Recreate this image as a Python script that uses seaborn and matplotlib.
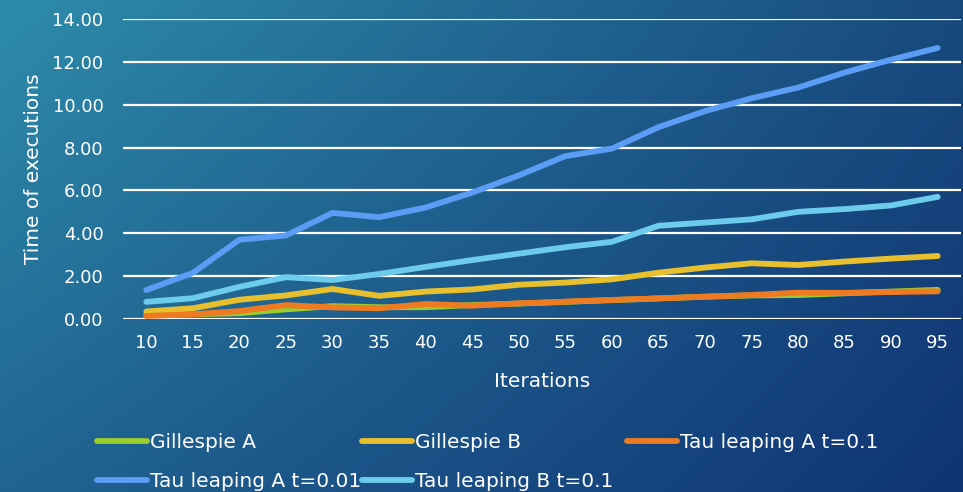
import numpy as np
import pandas as pd
import matplotlib
matplotlib.use("Agg")
import matplotlib.pyplot as plt
import seaborn as sns
from matplotlib.lines import Line2D

iterations = [10, 15, 20, 25, 30, 35, 40, 45, 50, 55, 60, 65, 70, 75, 80, 85, 90, 95]
gillespie_a = [0.20, 0.22, 0.27, 0.45, 0.60, 0.55, 0.55, 0.65, 0.72, 0.80, 0.88, 0.96, 1.04, 1.10, 1.12, 1.20, 1.28, 1.36]
gillespie_b = [0.35, 0.50, 0.90, 1.10, 1.40, 1.08, 1.28, 1.38, 1.60, 1.70, 1.85, 2.16, 2.40, 2.60, 2.52, 2.68, 2.82, 2.94]
tau_a_01 = [0.14, 0.22, 0.37, 0.65, 0.54, 0.50, 0.70, 0.62, 0.73, 0.81, 0.89, 0.96, 1.04, 1.12, 1.23, 1.22, 1.26, 1.29]
tau_a_001 = [1.35, 2.15, 3.70, 3.90, 4.95, 4.75, 5.20, 5.90, 6.70, 7.60, 7.95, 8.95, 9.70, 10.30, 10.80, 11.50, 12.10, 12.65]
tau_b_01 = [0.80, 0.97, 1.50, 1.95, 1.82, 2.10, 2.43, 2.75, 3.05, 3.35, 3.60, 4.35, 4.50, 4.65, 5.00, 5.13, 5.30, 5.70]

series_names = ["Gillespie A", "Gillespie B", "Tau leaping A t=0.1",
                "Tau leaping A t=0.01", "Tau leaping B t=0.1"]
series_values = [gillespie_a, gillespie_b, tau_a_01, tau_a_001, tau_b_01]
colors = ["#9ACD2E", "#E8C02E", "#EE7A22", "#5B9CF4", "#6DCBEB"]
y_ticks = [0, 2, 4, 6, 8, 10, 12, 14]

rows = []
for name, vals in zip(series_names, series_values):
    for x, v in zip(iterations, vals):
        rows.append({"Iterations": x, "Time": v, "Series": name})
df = pd.DataFrame(rows)

sns.set_theme(style="white")
plt.rcParams["font.family"] = ["DejaVu Sans"]

W, H = 963, 492
fig = plt.figure(figsize=(W / 100, H / 100), dpi=100)

# gradient background
bg = fig.add_axes([0, 0, 1, 1], zorder=-10)
tl = np.array([46, 140, 170]) / 255
tr = np.array([24, 74, 126]) / 255
bl = np.array([32, 100, 145]) / 255
br = np.array([16, 52, 116]) / 255
u = np.linspace(0, 1, 200)[None, :, None]
v = np.linspace(0, 1, 120)[:, None, None]
img = (1 - v) * ((1 - u) * tl + u * tr) + v * ((1 - u) * bl + u * br)
bg.imshow(img, aspect="auto", extent=[0, 1, 0, 1], interpolation="bilinear")
bg.axis("off")

ax = fig.add_axes([123 / W, 1 - 319 / H, (961 - 123) / W, (319 - 19) / H])
ax.set_facecolor("none")
for spine in ax.spines.values():
    spine.set_visible(False)

for y in y_ticks:
    ax.axhline(y, color="white", lw=1.6, zorder=1)

sns.lineplot(data=df, x="Iterations", y="Time", hue="Series",
             hue_order=series_names, palette=colors, ax=ax, lw=4.2,
             solid_capstyle="round", legend=False, zorder=3)

ax.set_xlim(7.5, 97.5)
ax.set_ylim(0, 14)
ax.set_xticks(iterations)
ax.set_xticklabels([str(i) for i in iterations])
ax.set_yticks(y_ticks)
ax.set_yticklabels([f"{t:.2f}" for t in y_ticks])
ax.tick_params(axis="both", colors="white", labelsize=13, length=0)
ax.tick_params(axis="y", pad=14)
ax.tick_params(axis="x", pad=11)
ax.set_xlabel("Iterations", color="white", fontsize=14.5, labelpad=14)
ax.set_ylabel("Time of executions", color="white", fontsize=14.5)
ax.yaxis.set_label_coords(-80 / (961 - 123), 0.5)

handles = {n: Line2D([], [], color=c, lw=4.2, solid_capstyle="round")
           for n, c in zip(series_names, colors)}
columns = [(["Gillespie A", "Tau leaping A t=0.01"], 97),
           (["Gillespie B", "Tau leaping B t=0.1"], 362),
           (["Tau leaping A t=0.1"], 627)]
for names, xpix in columns:
    leg = fig.legend([handles[n] for n in names], names, ncol=1,
                     loc="upper left", bbox_to_anchor=(xpix / W, 1 - 433 / H),
                     frameon=False, fontsize=14.5, handlelength=2.5,
                     handletextpad=0.12, labelspacing=1.0,
                     borderaxespad=0, borderpad=0)
    for t in leg.get_texts():
        t.set_color("white")

fig.savefig("out.png", dpi=100)
